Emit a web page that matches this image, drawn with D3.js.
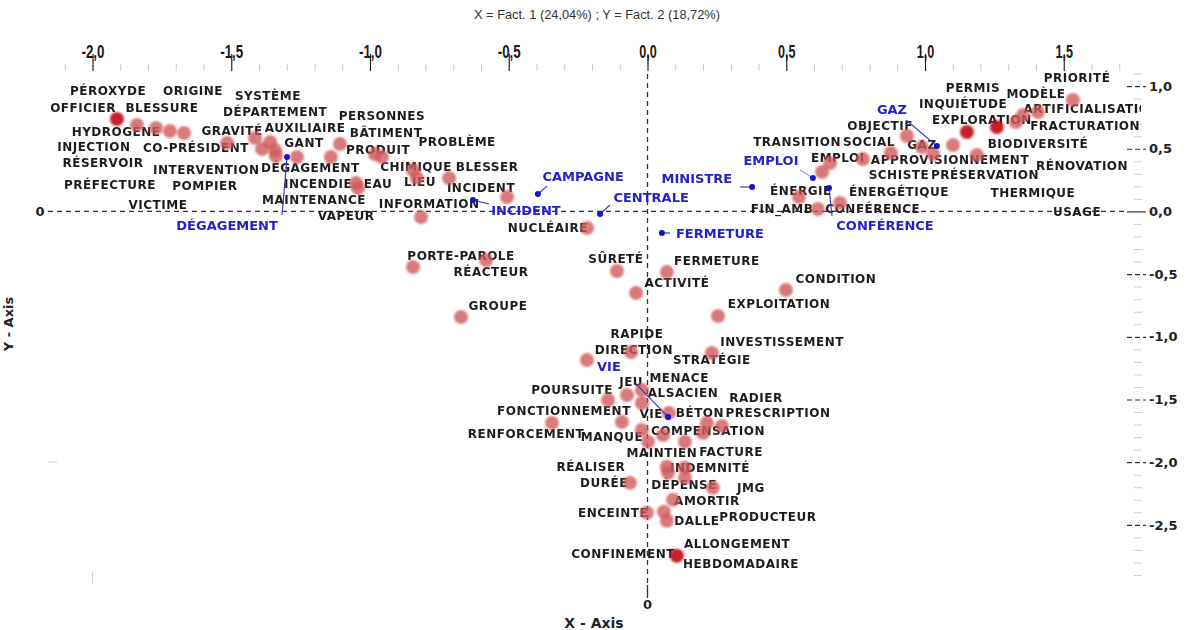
<!DOCTYPE html>
<html><head><meta charset="utf-8">
<script src="https://cdn.jsdelivr.net/npm/d3@7"></script>
<style>
body{margin:0;background:#fff;}
svg{display:block;}
</style></head><body>
<svg id="chart" width="1192" height="630"></svg>
<script>
const chartTitle = "X = Fact. 1 (24,04%) ; Y = Fact. 2 (18,72%)";
const xAxisTitle = "X - Axis";
const yAxisTitle = "Y - Axis";
const xTickValues = [-2, -1.5, -1, -0.5, 0, 0.5, 1, 1.5];
const yTickValues = [1, 0.5, 0, -0.5, -1, -1.5, -2, -2.5];
const xDomain = [-2.2, 1.8];
const yDomain = [1.1, -2.9];

// active words: point coordinates [Fact.1, Fact.2]
const activePoints = [
  [-1.840,0.689],[-1.771,0.665],[-1.721,0.641],[-1.670,0.625],[-1.515,0.545],[-1.414,0.585],
  [-1.389,0.498],[-1.360,0.553],[-1.342,0.490],[-1.339,0.442],[-1.263,0.434],[-1.141,0.434],
  [-1.108,0.538],[-0.982,0.458],[-0.957,0.434],[-1.050,0.226],[-1.043,0.186],[-0.845,0.330],
  [-0.831,0.266],[-0.715,0.266],[-0.506,0.115],[-0.816,-0.045],[-0.218,-0.132],[-0.845,-0.443],
  [-0.582,-0.388],[-0.110,-0.475],[0.070,-0.483],[-0.041,-0.650],[0.499,-0.627],[-0.672,-0.842],
  [0.254,-0.834],[-0.059,-1.121],[0.232,-1.129],[-0.218,-1.185],[-0.142,-1.504],[-0.074,-1.464],
  [-0.020,-1.424],[-0.020,-1.528],[0.077,-1.607],[-0.344,-1.687],[-0.092,-1.679],[-0.020,-1.743],
  [0.056,-1.783],[0.214,-1.687],[0.200,-1.767],[0.268,-1.711],[0.135,-1.838],[0.002,-1.838],
  [0.070,-2.037],[0.074,-2.085],[0.135,-2.045],[0.135,-2.125],[-0.063,-2.165],[0.236,-2.205],
  [0.092,-2.300],[-0.002,-2.403],[0.059,-2.396],[0.070,-2.467],
  [1.533,0.888],[1.407,0.793],[1.353,0.769],[1.328,0.713],[1.101,0.529],[1.187,0.449],
  [0.935,0.601],[0.989,0.514],[1.029,0.458],[0.877,0.466],[0.776,0.418],[0.658,0.386],
  [0.629,0.314],[0.546,0.115],[0.694,0.067],[0.614,0.019]
];
const strongPoints = [
  [-1.912,0.737],[0.106,-2.747],[1.259,0.673],[1.151,0.633]
];

// active word labels: [word, Fact.1, Fact.2]
const activeLabels = [
  ["PÉROXYDE",-1.944,0.960],["ORIGINE",-1.638,0.960],["OFFICIER",-2.034,0.825],["BLESSURE",-1.750,0.825],
  ["SYSTÈME",-1.368,0.920],["DÉPARTEMENT",-1.342,0.793],["HYDROGÈNE",-1.915,0.633],["GRAVITÉ",-1.497,0.641],
  ["AUXILIAIRE",-1.234,0.665],["INJECTION",-1.995,0.514],["CO-PRÉSIDENT",-1.627,0.506],["GANT",-1.238,0.545],
  ["RÉSERVOIR",-1.962,0.386],["INTERVENTION",-1.590,0.330],["DÉGAGEMENT",-1.215,0.346],["PRÉFECTURE",-1.937,0.210],
  ["POMPIER",-1.595,0.202],["INCENDIE",-1.187,0.218],["VICTIME",-1.764,0.051],["MAINTENANCE",-1.202,0.091],
  ["PERSONNES",-0.957,0.761],["BÂTIMENT",-0.942,0.625],["PROBLÈME",-0.686,0.553],["PRODUIT",-0.971,0.490],
  ["CHIMIQUE",-0.834,0.354],["BLESSER",-0.578,0.354],["EAU",-0.971,0.218],["LIEU",-0.820,0.234],
  ["INCIDENT",-0.600,0.186],["INFORMATION",-0.787,0.059],["VAPEUR",-1.086,-0.037],["NUCLÉAIRE",-0.359,-0.132],
  ["PORTE-PAROLE",-0.672,-0.355],["RÉACTEUR",-0.564,-0.483],["GROUPE",-0.539,-0.754],["SÛRETÉ",-0.114,-0.380],
  ["FERMETURE",0.250,-0.396],["ACTIVITÉ",0.106,-0.571],["CONDITION",0.679,-0.539],["EXPLOITATION",0.474,-0.738],
  ["RAPIDE",-0.038,-0.978],["DIRECTION",-0.049,-1.105],["INVESTISSEMENT",0.485,-1.041],["STRATÉGIE",0.232,-1.185],
  ["JEU",-0.059,-1.361],["MENACE",0.114,-1.329],["POURSUITE",-0.272,-1.424],["ALSACIEN",0.128,-1.448],
  ["RADIER",0.391,-1.488],["FONCTIONNEMENT",-0.301,-1.592],["VIE",0.013,-1.616],["BÉTON",0.189,-1.608],
  ["PRESCRIPTION",0.470,-1.608],["RENFORCEMENT",-0.438,-1.775],["MANQUE",-0.128,-1.799],["COMPENSATION",0.218,-1.751],
  ["MAINTIEN",0.052,-1.926],["FACTURE",0.301,-1.918],["RÉALISER",-0.204,-2.038],["INDEMNITÉ",0.225,-2.046],
  ["DURÉE",-0.157,-2.166],["DÉPENSE",0.132,-2.182],["JMG",0.373,-2.206],["AMORTIR",0.214,-2.310],
  ["ENCEINTE",-0.124,-2.405],["DALLE",0.178,-2.469],["PRODUCTEUR",0.434,-2.437],["ALLONGEMENT",0.323,-2.652],
  ["CONFINEMENT",-0.088,-2.732],["HEBDOMADAIRE",0.337,-2.812],
  ["PRIORITÉ",1.548,1.064],["PERMIS",1.173,0.984],["MODÈLE",1.400,0.936],["INQUIÉTUDE",1.137,0.857],
  ["ARTIFICIALISATION",1.601,0.817],["OBJECTIF",0.838,0.681],["EXPLORATION",1.205,0.729],["FRACTURATION",1.577,0.681],
  ["TRANSITION",0.539,0.553],["SOCIAL",0.798,0.553],["GAZ",0.989,0.529],["BIODIVERSITÉ",1.407,0.537],
  ["EMPLOI",0.686,0.426],["APPROVISIONNEMENT",1.090,0.410],["RÉNOVATION",1.566,0.362],["SCHISTE",0.906,0.290],
  ["PRÉSERVATION",1.216,0.290],["ÉNERGIE",0.553,0.163],["ÉNERGÉTIQUE",0.906,0.155],["THERMIQUE",1.389,0.147],
  ["FIN_AMB",0.485,0.019],["CONFÉRENCE",0.812,0.019],["USAGE",1.548,-0.005]
];

// supplementary words: [word, pointF1, pointF2, leaderF1, leaderF2, labelF1, labelF2]
const supplementaryWords = [
  ["DÉGAGEMENT",-1.299,0.434,-1.317,-0.029,-1.515,-0.108],
  ["INCIDENT",-0.629,0.091,-0.571,0.059,-0.438,0.011],
  ["CAMPAGNE",-0.395,0.139,-0.362,0.202,-0.232,0.282],
  ["CENTRALE",-0.171,-0.021,-0.135,0.051,0.013,0.115],
  ["MINISTRE",0.377,0.195,0.333,0.195,0.178,0.266],
  ["FERMETURE",0.052,-0.172,0.081,-0.172,0.261,-0.172],
  ["EMPLOI",0.596,0.266,0.550,0.330,0.445,0.410],
  ["GAZ",1.043,0.521,0.932,0.729,0.881,0.817],
  ["CONFÉRENCE",0.654,0.187,0.665,-0.037,0.856,-0.108],
  ["VIE",0.074,-1.639,-0.038,-1.383,-0.139,-1.239]
];

const W = 1192, H = 630;
const svg = d3.select("#chart");
const x = d3.scaleLinear().domain(xDomain).range([37, 1147]);
const y = d3.scaleLinear().domain(yDomain).range([73.5, 575]);
const loc = d3.formatLocale({decimal: ",", thousands: ".", grouping: [3], currency: ["", ""], minus: "-"});
const fmt = loc.format(".1f");
const narrow = "'Liberation Sans Narrow','Arial Narrow','Liberation Sans',sans-serif";
const verdana = "'DejaVu Sans',Verdana,sans-serif";
const charW = c => c === "-" ? 5.5 : (c === "," ? 3.5 : 7);
const labelWidth = s => Array.from(s).reduce((a, c) => a + charW(c), 0);

const defs = svg.append("defs");
defs.append("clipPath").attr("id", "clipLabels").append("rect")
  .attr("x", 0).attr("y", 0).attr("width", 1141).attr("height", H);
const soft = defs.append("filter").attr("id", "soft").attr("x", "-50%").attr("y", "-50%").attr("width", "200%").attr("height", "200%");
soft.append("feGaussianBlur").attr("stdDeviation", 0.8);
const txtBlur = defs.append("filter").attr("id", "tblur");
txtBlur.append("feGaussianBlur").attr("stdDeviation", 0.25);

// title
svg.append("text").attr("x", 597).attr("y", 19).attr("text-anchor", "middle")
  .attr("font-family", narrow).attr("font-size", 13).attr("fill", "#333")
  .attr("textLength", 246).attr("lengthAdjust", "spacingAndGlyphs").text(chartTitle);

// top axis: minor ticks
const xMinor = d3.range(-21, 18).map(v => v / 10).filter(v => !xTickValues.some(t => Math.abs(t - v) < 1e-6));
const xMinorAxis = svg.append("g").attr("transform", "translate(0,71)")
  .call(d3.axisTop(x).tickValues(xMinor).tickSize(7).tickFormat(""));
xMinorAxis.select(".domain").remove();
xMinorAxis.selectAll("line").attr("stroke", "#c8c8c8");

const xMajor = svg.append("g").attr("transform", "translate(0,71)")
  .call(d3.axisTop(x).tickValues(xTickValues).tickSize(17).tickPadding(-4).tickFormat(fmt));
xMajor.select(".domain").remove();
xMajor.selectAll("line").attr("stroke", "#222").attr("stroke-width", 1.2);
xMajor.selectAll("text").attr("font-family", narrow).attr("font-size", 18).attr("font-weight", "bold").attr("fill", "#1a1a1a")
  .attr("textLength", d => labelWidth(fmt(d))).attr("lengthAdjust", "spacingAndGlyphs");

// right axis
const yMinor = d3.range(-29, 12).map(v => v / 10).filter(v => !yTickValues.some(t => Math.abs(t - v) < 1e-6));
const yMinorAxis = svg.append("g").attr("transform", "translate(1134,0)")
  .call(d3.axisRight(y).tickValues(yMinor).tickSize(8).tickFormat(""));
yMinorAxis.select(".domain").remove();
yMinorAxis.selectAll("line").attr("stroke", "#cfcfcf");

const yMajor = svg.append("g").attr("transform", "translate(1127,0)")
  .call(d3.axisRight(y).tickValues(yTickValues).tickSize(19).tickPadding(3).tickFormat(fmt));
yMajor.select(".domain").remove();
yMajor.selectAll("line").attr("stroke", "#333").attr("stroke-width", 1.2)
  .attr("stroke-dasharray", d => d === 0 ? null : "5,3");
yMajor.selectAll("text").attr("font-family", verdana).attr("font-size", 13).attr("font-weight", "bold").attr("fill", "#222");

// faint left / bottom ticks
svg.append("line").attr("x1", 48).attr("x2", 57).attr("y1", y(-2)).attr("y2", y(-2)).attr("stroke", "#d0d0d0");
svg.append("line").attr("x1", x(-2)).attr("x2", x(-2)).attr("y1", 572).attr("y2", 584).attr("stroke", "#d0d0d0");

// zero lines
svg.append("line").attr("x1", 48).attr("x2", 1127).attr("y1", y(0)).attr("y2", y(0))
  .attr("stroke", "#333").attr("stroke-width", 1.3).attr("stroke-dasharray", "5,4");
svg.append("line").attr("x1", x(0)).attr("x2", x(0)).attr("y1", 74).attr("y2", 585)
  .attr("stroke", "#333").attr("stroke-width", 1.3).attr("stroke-dasharray", "5,4");
svg.append("line").attr("x1", x(0)).attr("x2", x(0)).attr("y1", 585).attr("y2", 598)
  .attr("stroke", "#333").attr("stroke-width", 1.3);
svg.append("text").attr("x", x(0)).attr("y", 609).attr("text-anchor", "middle")
  .attr("font-family", verdana).attr("font-weight", "bold").attr("font-size", 13).attr("fill", "#222").text("0");
svg.append("text").attr("x", 40).attr("y", y(0)).attr("dy", "0.35em").attr("text-anchor", "middle")
  .attr("font-family", verdana).attr("font-weight", "bold").attr("font-size", 13).attr("fill", "#222").text("0");

// axis titles
svg.append("text").attr("x", 594).attr("y", 628).attr("text-anchor", "middle")
  .attr("font-family", verdana).attr("font-weight", "bold").attr("font-size", 14).attr("fill", "#222").text(xAxisTitle);
svg.append("text").attr("transform", "translate(13,324) rotate(-90)").attr("text-anchor", "middle")
  .attr("font-family", verdana).attr("font-weight", "bold").attr("font-size", 13).attr("fill", "#222").text(yAxisTitle);

// active labels
svg.append("g").attr("clip-path", "url(#clipLabels)").selectAll("text").data(activeLabels).join("text")
  .attr("x", d => x(d[1])).attr("y", d => y(d[2])).attr("dy", "0.36em").attr("text-anchor", "middle")
  .attr("font-family", verdana).attr("font-weight", "bold").attr("font-size", 12).attr("fill", "#1e1e1e")
  .attr("letter-spacing", 0.5)
  .attr("filter", "url(#tblur)")
  .text(d => d[0]);

// active points
svg.append("g").selectAll("circle").data(activePoints).join("circle")
  .attr("cx", d => x(d[0])).attr("cy", d => y(d[1])).attr("r", 7)
  .attr("fill", "#d0575b").attr("fill-opacity", 0.8).attr("filter", "url(#soft)");
svg.append("g").selectAll("circle").data(strongPoints).join("circle")
  .attr("cx", d => x(d[0])).attr("cy", d => y(d[1])).attr("r", 7)
  .attr("fill", "#c0121a").attr("fill-opacity", 0.92).attr("filter", "url(#soft)");

// supplementary words
const sup = svg.append("g");
sup.selectAll("line").data(supplementaryWords).join("line")
  .attr("x1", d => x(d[1])).attr("y1", d => y(d[2])).attr("x2", d => x(d[3])).attr("y2", d => y(d[4]))
  .attr("stroke", d => d[0] === "EMPLOI" ? "#a0a0b8" : "#3b3bb5").attr("stroke-width", 1.2);
sup.selectAll("circle").data(supplementaryWords).join("circle")
  .attr("cx", d => x(d[1])).attr("cy", d => y(d[2])).attr("r", 3).attr("fill", "#1414c4");
sup.selectAll("text").data(supplementaryWords).join("text")
  .attr("x", d => x(d[5])).attr("y", d => y(d[6])).attr("dy", "0.36em").attr("text-anchor", "middle")
  .attr("font-family", verdana).attr("font-weight", "bold").attr("font-size", 13).attr("fill", "#2424c8")
  .attr("filter", "url(#tblur)")
  .text(d => d[0]);
</script>
</body></html>
